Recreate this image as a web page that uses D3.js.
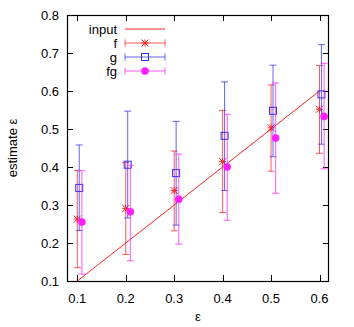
<!DOCTYPE html>
<html>
<head>
<meta charset="utf-8">
<script src="https://cdn.jsdelivr.net/npm/d3@7"></script>
<style>
  body { margin: 0; background: #fff; }
  svg { font-family: "Liberation Sans", Arial, sans-serif; }
</style>
</head>
<body>
<div id="chart"></div>
<script>
// data
const eps = [0.1, 0.2, 0.3, 0.4, 0.5, 0.6];
const fVal = [0.263, 0.291, 0.338, 0.414, 0.503, 0.552];
const fLo  = [0.135, 0.170, 0.232, 0.280, 0.389, 0.436];
const fHi  = [0.391, 0.412, 0.442, 0.549, 0.616, 0.667];
const gVal = [0.345, 0.406, 0.384, 0.482, 0.548, 0.591];
const gLo  = [0.233, 0.266, 0.247, 0.338, 0.427, 0.460];
const gHi  = [0.458, 0.547, 0.520, 0.624, 0.668, 0.722];
const fgVal = [0.255, 0.282, 0.315, 0.400, 0.476, 0.533];
const fgLo  = [0.118, 0.153, 0.197, 0.260, 0.331, 0.395];
const fgHi  = [0.390, 0.405, 0.434, 0.539, 0.621, 0.673];
const xTicks = [0.1, 0.2, 0.3, 0.4, 0.5, 0.6];
const yTicks = [0.1, 0.2, 0.3, 0.4, 0.5, 0.6, 0.7, 0.8];

const width = 354, height = 327;
const margin = {left: 67, right: 25, top: 15, bottom: 46};

const svg = d3.select("#chart").append("svg")
  .attr("width", width)
  .attr("height", height);

const x = d3.scaleLinear().domain([0.0787, 0.6196]).range([margin.left, width - margin.right]);
const y = d3.scaleLinear().domain([0.1, 0.8]).range([height - margin.bottom, margin.top]);

// ticks, mirrored inside on all sides
const tickLen = 6;
const tk = svg.append("g").attr("stroke", "#000").attr("stroke-width", 1);
xTicks.forEach(t => {
  const px = Math.round(x(t)) + 0.5;
  tk.append("line").attr("x1", px).attr("x2", px).attr("y1", y(0.1)).attr("y2", y(0.1) - tickLen);
  tk.append("line").attr("x1", px).attr("x2", px).attr("y1", y(0.8)).attr("y2", y(0.8) + tickLen);
});
yTicks.forEach(t => {
  const py = Math.round(y(t)) + 0.5;
  tk.append("line").attr("x1", x.range()[0]).attr("x2", x.range()[0] + tickLen).attr("y1", py).attr("y2", py);
  tk.append("line").attr("x1", x.range()[1]).attr("x2", x.range()[1] - tickLen).attr("y1", py).attr("y2", py);
});

svg.append("g").selectAll("text").data(xTicks).join("text")
  .attr("x", d => x(d)).attr("y", y(0.1) + 22)
  .attr("text-anchor", "middle").attr("font-size", 13)
  .text(d => d.toFixed(1));

svg.append("g").selectAll("text").data(yTicks).join("text")
  .attr("x", margin.left - 8).attr("y", d => y(d) + 5)
  .attr("text-anchor", "end").attr("font-size", 13)
  .text(d => d.toFixed(1));

svg.append("text").attr("x", 198).attr("y", 321)
  .attr("text-anchor", "middle").attr("font-size", 13).text("ε");
svg.append("text")
  .attr("transform", `translate(17,${(y(0.1) + y(0.8)) / 2}) rotate(-90)`)
  .attr("text-anchor", "middle").attr("font-size", 13).text("estimate ε");

// input line y = x
svg.append("line")
  .attr("x1", x(0.1)).attr("y1", y(0.1))
  .attr("x2", x(0.6)).attr("y2", y(0.6))
  .attr("stroke", "#f22").attr("stroke-width", 1);

const series = [
  {name: "f",  color: "#ff2020", val: fVal, lo: fLo, hi: fHi, dx: 0, mark: "star"},
  {name: "g",  color: "#3030ff", val: gVal, lo: gLo, hi: gHi, dx: 0.004, mark: "square"},
  {name: "fg", color: "#ff20ff", val: fgVal, lo: fgLo, hi: fgHi, dx: 0.0095, mark: "circle"}
];

const cap = 3.5;
function drawMark(g, mark, cx, cy, color) {
  if (mark === "star") {
    const s = 3.5;
    const p = `M${cx - s},${cy}H${cx + s}M${cx},${cy - s}V${cy + s}` +
      `M${cx - s},${cy - s}L${cx + s},${cy + s}M${cx - s},${cy + s}L${cx + s},${cy - s}`;
    g.append("path").attr("d", p).attr("stroke", color).attr("stroke-width", 1).attr("fill", "none");
  } else if (mark === "square") {
    g.append("rect").attr("x", cx - 3.5).attr("y", cy - 3.5).attr("width", 7).attr("height", 7)
      .attr("fill", "none").attr("stroke", color).attr("stroke-width", 1);
  } else {
    g.append("circle").attr("cx", cx).attr("cy", cy).attr("r", 3.8).attr("fill", color);
  }
}

series.forEach(s => {
  const g = svg.append("g");
  eps.forEach((e, i) => {
    const px = x(e + s.dx);
    const bar = g.append("g").attr("stroke", s.color).attr("stroke-width", 1).attr("stroke-opacity", 0.75);
    bar.append("line").attr("x1", px).attr("x2", px).attr("y1", y(s.lo[i])).attr("y2", y(s.hi[i]));
    bar.append("line").attr("x1", px - cap).attr("x2", px + cap).attr("y1", y(s.lo[i])).attr("y2", y(s.lo[i]));
    bar.append("line").attr("x1", px - cap).attr("x2", px + cap).attr("y1", y(s.hi[i])).attr("y2", y(s.hi[i]));
    drawMark(g, s.mark, px, y(s.val[i]), s.color);
  });
});

// legend
const leg = svg.append("g");
const legY = [29, 43, 57, 71];
const legNames = ["input", "f", "g", "fg"];
legNames.forEach((n, i) => {
  leg.append("text").attr("x", 117).attr("y", legY[i] + 5)
    .attr("text-anchor", "end").attr("font-size", 13).text(n);
  if (i === 0) {
    leg.append("line").attr("x1", 125).attr("x2", 165).attr("y1", legY[i]).attr("y2", legY[i])
      .attr("stroke", "#f22").attr("stroke-width", 1);
  } else {
    const s = series[i - 1];
    const lg = leg.append("g").attr("stroke", s.color).attr("stroke-opacity", 0.75);
    lg.append("line").attr("x1", 125).attr("x2", 165).attr("y1", legY[i]).attr("y2", legY[i]);
    lg.append("line").attr("x1", 125).attr("x2", 125).attr("y1", legY[i] - cap).attr("y2", legY[i] + cap);
    lg.append("line").attr("x1", 165).attr("x2", 165).attr("y1", legY[i] - cap).attr("y2", legY[i] + cap);
    drawMark(leg, s.mark, 145, legY[i], s.color);
  }
});

// frame
svg.append("rect")
  .attr("x", margin.left + 0.5).attr("y", margin.top + 0.5)
  .attr("width", width - margin.left - margin.right - 1)
  .attr("height", height - margin.top - margin.bottom)
  .attr("fill", "none").attr("stroke", "#000").attr("stroke-width", 1.2);
</script>
</body>
</html>
